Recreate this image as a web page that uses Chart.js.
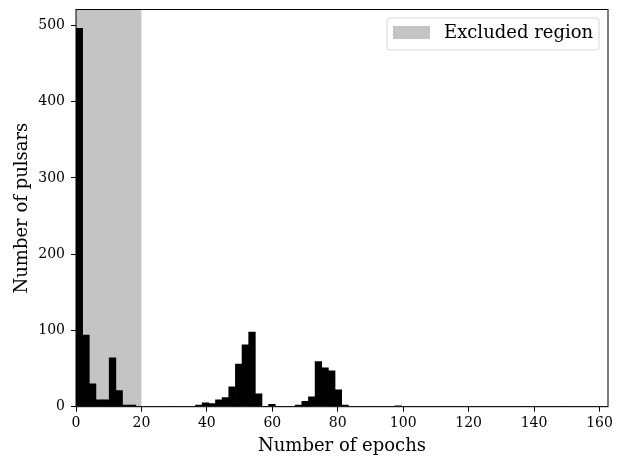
<!DOCTYPE html>
<html>
<head>
<meta charset="utf-8">
<script src="https://cdn.jsdelivr.net/npm/chart.js@4.4.0/dist/chart.umd.min.js"></script>
<style>
  body { margin: 0; background: #fff; }
  canvas { display: block; }
</style>
</head>
<body>
<canvas id="myChart" width="623" height="456"></canvas>
<script>
// histogram of epochs per pulsar, 80 bins of ~2.03 epochs
const binWidth = 2.03
const counts = [
  496, 94, 30, 9, 9, 64, 21, 2, 2, 0,
  0, 0, 0, 0, 0, 0, 0, 0, 2, 5,
  4, 9, 12, 26, 56, 81, 98, 17, 0, 3,
  0, 0, 0, 2, 7, 13, 59, 51, 47, 22,
  2, 0, 0, 0, 0, 0, 0, 0, 1, 0,
  0, 0, 0, 0, 0, 0, 0, 0, 0, 0,
  0, 0, 0, 0, 0, 0, 0, 0, 0, 0,
  0, 0, 0, 0, 0, 0, 0, 0, 0, 0
]
const excludedRegion = [0, 20]
const xTicks = [0, 20, 40, 60, 80, 100, 120, 140, 160]
const yTicks = [0, 100, 200, 300, 400, 500]

const serif = "'DejaVu Serif', serif"
const greyFill = '#c4c4c4'

const points = counts.map((c, i) => ({ x: (i + 0.5) * binWidth, y: c }))

const shade = {
  id: 'shade',
  beforeDatasetsDraw(chart) {
    const { ctx, chartArea, scales } = chart
    const x0 = scales.x.getPixelForValue(excludedRegion[0])
    const x1 = scales.x.getPixelForValue(excludedRegion[1])
    ctx.save()
    ctx.fillStyle = greyFill
    ctx.fillRect(x0, chartArea.top, x1 - x0, chartArea.bottom - chartArea.top)
    ctx.restore()
  },
  afterDraw(chart) {
    const { ctx, chartArea } = chart
    ctx.save()
    // frame
    ctx.strokeStyle = '#000'
    ctx.lineWidth = 1
    ctx.strokeRect(chartArea.left, chartArea.top, chartArea.right - chartArea.left, chartArea.bottom - chartArea.top)

    // legend
    const w = 212, h = 32
    const lx = chartArea.right - 9 - w
    const ly = chartArea.top + 8.5
    ctx.beginPath()
    ctx.roundRect(lx, ly, w, h, 3)
    ctx.fillStyle = 'rgba(255,255,255,0.8)'
    ctx.fill()
    ctx.strokeStyle = '#d6d6d6'
    ctx.stroke()
    ctx.fillStyle = greyFill
    ctx.fillRect(lx + 6, ly + 8, 37, 13)
    ctx.fillStyle = '#000'
    ctx.font = '18px ' + serif
    ctx.textBaseline = 'middle'
    ctx.fillText('Excluded region', lx + 57, ly + 15)
    ctx.restore()
  }
}

new Chart(document.getElementById('myChart').getContext('2d'), {
  type: 'bar',
  data: {
    datasets: [{
      label: 'Pulsars',
      data: points,
      backgroundColor: '#000',
      borderWidth: 0,
      barPercentage: 1,
      categoryPercentage: 1
    }]
  },
  options: {
    responsive: false,
    animation: false,
    layout: { padding: { top: 9.5, right: 15, left: 0, bottom: 0 } },
    plugins: {
      legend: { display: false },
      tooltip: { enabled: false }
    },
    scales: {
      x: {
        type: 'linear',
        min: 0,
        max: 162.6,
        offset: false,
        afterFit: s => { s.height = 49.3; s.paddingLeft = 0; s.paddingRight = 0 },
        afterBuildTicks: s => { s.ticks = xTicks.map(v => ({ value: v })) },
        grid: { offset: false, drawOnChartArea: false, tickLength: 5, color: '#000', tickColor: '#000' },
        border: { display: false },
        ticks: { color: '#000', font: { family: serif, size: 14 }, padding: 3, maxRotation: 0, autoSkip: false },
        title: { display: true, text: 'Number of epochs', color: '#000', font: { family: serif, size: 18 }, padding: { top: 0, bottom: -1.5 } }
      },
      y: {
        min: 0,
        max: 520.8,
        afterFit: s => { s.width = 76; s.paddingTop = 0; s.paddingBottom = 0 },
        afterBuildTicks: s => { s.ticks = yTicks.map(v => ({ value: v })) },
        grid: { drawOnChartArea: false, tickLength: 5, color: '#000', tickColor: '#000' },
        border: { display: false },
        ticks: { color: '#000', font: { family: serif, size: 14 }, padding: 6 },
        title: { display: true, text: 'Number of pulsars', color: '#000', font: { family: serif, size: 18 }, padding: { top: 12, bottom: 0 } }
      }
    }
  },
  plugins: [shade]
})
</script>
</body>
</html>
